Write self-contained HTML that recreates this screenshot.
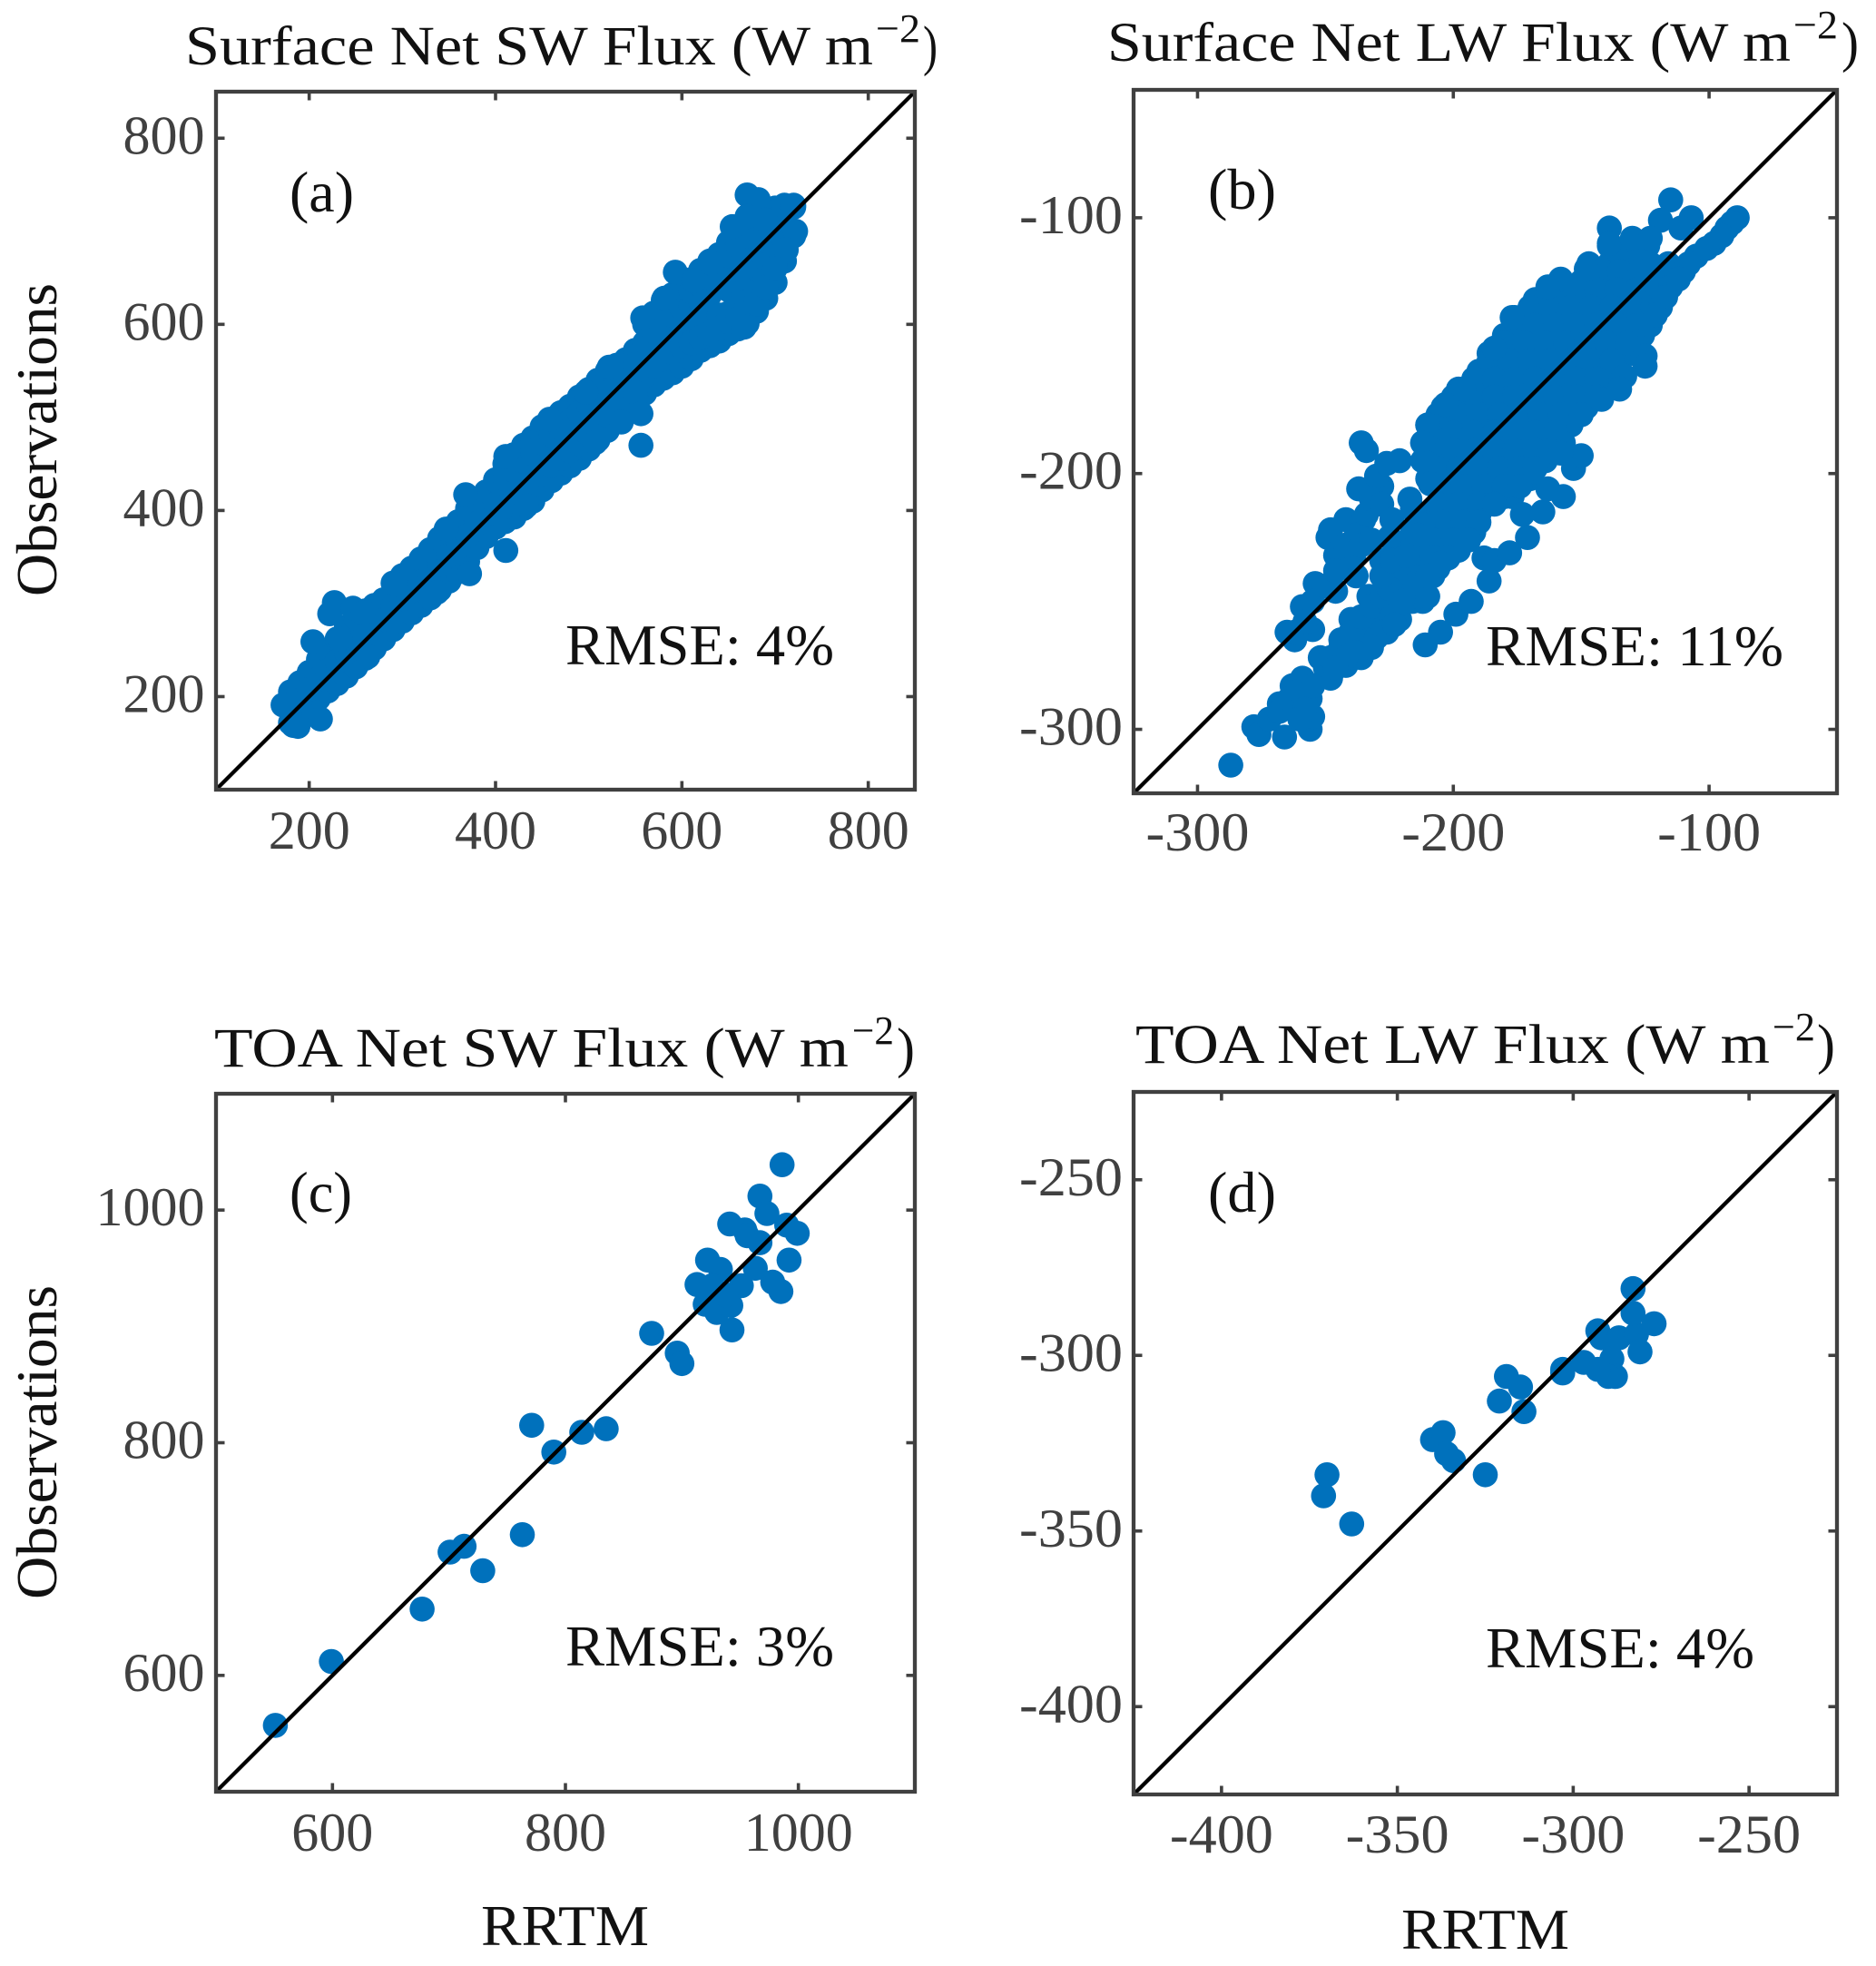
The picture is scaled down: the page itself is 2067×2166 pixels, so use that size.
<!DOCTYPE html>
<html lang="en">
<head>
<meta charset="utf-8">
<title>RRTM vs Observations flux comparison</title>
<style>
html,body{margin:0;padding:0;background:#fff;}
svg{display:block;}
text{font-family:"Liberation Serif",serif;}
.ttl{font-size:61px;fill:#111;}
.sup{font-size:44px;fill:#111;}
.lab{font-size:64px;fill:#111;}
.ann{font-size:63px;fill:#111;}
.tick{font-size:60px;fill:#404040;}
</style>
</head>
<body>
<svg id="figure" xmlns="http://www.w3.org/2000/svg" width="2067" height="2166" viewBox="0 0 2067 2166">
<rect x="0" y="0" width="2067" height="2166" fill="#fff"/>
<g id="panel-a"></g>
<g id="panel-b"></g>
<g id="panel-c"></g>
<g id="panel-d"></g>

<g>
<text class="ttl" x="204" y="71" textLength="758" lengthAdjust="spacingAndGlyphs">Surface Net SW Flux (W m</text>
<text class="sup" x="965" y="46" textLength="49" lengthAdjust="spacingAndGlyphs">−2</text>
<text class="ttl" x="1017" y="71" textLength="16" lengthAdjust="spacingAndGlyphs">)</text>
</g>
<g>
<text class="ttl" x="1220" y="67" textLength="753" lengthAdjust="spacingAndGlyphs">Surface Net LW Flux (W m</text>
<text class="sup" x="1976" y="42" textLength="49" lengthAdjust="spacingAndGlyphs">−2</text>
<text class="ttl" x="2029" y="67" textLength="19" lengthAdjust="spacingAndGlyphs">)</text>
</g>
<g>
<text class="ttl" x="236" y="1175" textLength="699" lengthAdjust="spacingAndGlyphs">TOA Net SW Flux (W m</text>
<text class="sup" x="939" y="1150" textLength="46" lengthAdjust="spacingAndGlyphs">−2</text>
<text class="ttl" x="988" y="1175" textLength="20" lengthAdjust="spacingAndGlyphs">)</text>
</g>
<g>
<text class="ttl" x="1251" y="1171" textLength="699" lengthAdjust="spacingAndGlyphs">TOA Net LW Flux (W m</text>
<text class="sup" x="1953" y="1146" textLength="47" lengthAdjust="spacingAndGlyphs">−2</text>
<text class="ttl" x="2002" y="1171" textLength="20" lengthAdjust="spacingAndGlyphs">)</text>
</g>

<text class="lab" transform="translate(62,657) rotate(-90)" textLength="345" lengthAdjust="spacingAndGlyphs">Observations</text>
<text class="lab" transform="translate(62,1762) rotate(-90)" textLength="346" lengthAdjust="spacingAndGlyphs">Observations</text>
<text class="lab" x="530" y="2143" textLength="185" lengthAdjust="spacingAndGlyphs">RRTM</text>
<text class="lab" x="1544" y="2147" textLength="185" lengthAdjust="spacingAndGlyphs">RRTM</text>

<text class="ann" x="319" y="233" textLength="71" lengthAdjust="spacingAndGlyphs">(a)</text>
<text class="ann" x="1331" y="230" textLength="75" lengthAdjust="spacingAndGlyphs">(b)</text>
<text class="ann" x="319" y="1335" textLength="69" lengthAdjust="spacingAndGlyphs">(c)</text>
<text class="ann" x="1331" y="1335" textLength="75" lengthAdjust="spacingAndGlyphs">(d)</text>

<text class="ann" x="623" y="732" textLength="296" lengthAdjust="spacingAndGlyphs">RMSE: 4%</text>
<text class="ann" x="1637" y="733" textLength="328" lengthAdjust="spacingAndGlyphs">RMSE: 11%</text>
<text class="ann" x="623" y="1835" textLength="296" lengthAdjust="spacingAndGlyphs">RMSE: 3%</text>
<text class="ann" x="1637" y="1837" textLength="296" lengthAdjust="spacingAndGlyphs">RMSE: 4%</text>
</svg>

<script>
// Panel (a) values
const aObservedX = [
180,190,200,210,220,230,240,250,260,270,280,290,300,310,320,330,340,350,360,370,380,390,400,410,420,430,440,450,460,470,480,490,500,510,520,530,540,550,560,570,580,590,600,610,620,630,640,650,660,670,680,690,700,710,720,
180,190,200,210,220,230,240,250,260,270,280,290,300,310,320,330,340,350,360,370,380,390,400,410,420,430,440,450,460,470,480,490,500,510,520,530,540,550,560,570,580,590,600,610,620,630,640,650,660,670,680,690,700,710,720,
180,190,200,210,220,230,240,250,260,270,280,290,300,310,320,330,340,350,360,370,380,390,400,410,420,430,440,450,460,470,480,490,500,510,520,530,540,550,560,570,580,590,600,
560,560,570,570,580,580,590,590,600,600,
610,610,620,620,630,630,640,640,650,650,650,660,660,660,670,670,670,680,680,680,690,690,690,700,700,700,710,710,
410,410,420,420,430,430,440,440,450,450,460,460,470,470,480,480,490,490,500,500,510,510,520,520,530,530,540,540,550,550,
610,620,630,640,610,620,630,640,650,660,670,650,660,670,680,680,690,700,690,
172,183,188,212,204,227,222,247,233,258,368,372,411,411,458,556,556,535,522,497,593,558,581,670,682,654,631,613,720,722,712,667,690,700,670,690,292,347,337,263,507,433
];
const aObservedY = [
205,215,226,240,250,262,275,285,292,298,304,322,330,338,348,358,370,380,388,402,412,420,433,450,460,470,478,490,498,505,512,522,530,540,550,556,562,572,600,612,626,632,640,648,658,668,675,688,700,715,720,722,725,728,726,
172,178,190,198,206,214,222,232,241,252,262,272,281,290,298,306,315,324,334,345,360,372,382,388,393,402,410,422,432,440,448,456,466,476,486,495,505,512,526,535,542,548,555,563,572,577,582,590,595,601,614,628,645,668,695,
188,196,208,219,228,238,248,258,266,275,283,297,305,314,323,332,342,352,361,373,386,396,407,419,426,436,444,456,465,472,480,489,498,508,518,525,533,542,563,573,584,590,597,
545,580,555,592,563,605,570,610,576,618,
600,620,600,625,605,632,610,640,612,637,660,618,645,668,625,650,675,635,660,680,650,672,690,665,685,700,690,705,
434,404,443,410,453,419,461,427,473,439,481,448,488,456,496,464,505,472,514,482,524,492,534,502,540,510,547,519,557,527,
635,642,650,658,580,586,590,596,603,606,612,674,684,695,700,622,638,712,706,
191,169,168,176,259,301,289,295,262,290,417,332,357,458,498,470,504,495,554,527,656,607,628,739,734,705,666,647,728,700,680,597,640,660,716,712,321,380,312,243,473,405
];
const aTickValues = [200,400,600,800];

// Panel (b) values
const bObservedX = [
-139,-131,-124,
-147,-139,-131,-123,-116,
-158,-150,-142,-134,-126,-118,
-168,-160,-152,-144,-136,-128,-120,
-176,-168,-160,-152,-144,-136,-128,-122,
-180,-172,-164,-156,-148,-140,-132,-126,
-186,-178,-170,-162,-154,-146,-138,-130,
-190,-182,-174,-166,-158,-150,-142,-136,
-198,-190,-182,-174,-166,-158,-150,-142,
-204,-196,-188,-180,-172,-164,-156,-148,
-210,-202,-194,-186,-178,-170,-162,-154,
-212,-204,-196,-188,-180,-172,-164,-157,
-212,-204,-196,-188,-180,-172,-164,
-210,-202,-194,-186,-178,-170,
-204,-196,-188,-180,-177,
-210,-202,-194,-190,
-216,-208,-200,-192,
-220,-212,-205,-198,
-220,-212,-206,
-218,-212,
-216,-212,
-135,-127,
-143,-135,-127,-119,
-160,-152,-144,-136,-128,-120,
-170,-162,-154,-146,-138,-130,-122,
-176,-168,-160,-152,-144,-136,-128,
-180,-172,-164,-156,-148,-140,-132,
-186,-178,-170,-162,-154,-146,-138,
-192,-184,-176,-168,-160,-152,-144,
-200,-192,-184,-176,-168,-160,-152,-144,
-206,-198,-190,-182,-174,-166,-158,-150,
-208,-200,-192,-184,-176,-168,-160,
-208,-200,-192,-184,-176,-168,-162,
-206,-198,-190,-182,-174,-168,
-204,-196,-188,-180,-174,
-206,-198,-190,-184,
-212,-204,-196,-190,
-216,-208,-200,-194,
-216,-208,-202,
-216,-208,
-214,
-287,-278,-276,-266,-256,-255,-268,-263,-259,-252,-248,-242,-236,-233,-226,-221,-240,-228,-233,-214,-210,
-211,-205,-199,-193,-186,-188,-184,-178,-171,-173,-165,-157,-163,-153,-150,-158,
-262,-265,-255,-259,-254,-246,-238,-246,-239,-249,-248,-242,-237,-228,-230,-226,-221,-236,-234,-217,-228,-221,
-89,-93,-98,-105,-110,-115,-119,-123,-125,-125,-133,-135,-142,-115,-119,-107,-111,-139,-139,-130,-123,-148,-158,-163,-177,-184,-196,-203,-210,-212,-210,-209,
-91,-95,-101,-108,-112,-117,-121,
-232,-236,-230,-244,-250,-235,-230,-225,-272,-268,-260,-256,
-248,-244,-240,-236,-232,-228,-224,-228,-232,-238,-242,-246,-225,-220,-215,-210,-205,-223,
-262,-258,-255,-250,-246,-242,-238,-234,-232,-228,-224,-216,-212,-236,-232,-228,-224,-214,-218,
-264,-260,-258,-260,-255
];
const bObservedY = [
-111,-111,-111,
-118,-118,-118,-118,-118,
-125,-125,-125,-125,-125,-125,
-132,-132,-132,-132,-132,-132,-132,
-139,-139,-139,-139,-139,-139,-139,-139,
-146,-146,-146,-146,-146,-146,-146,-146,
-153,-153,-153,-153,-153,-153,-153,-153,
-160,-160,-160,-160,-160,-160,-160,-160,
-167,-167,-167,-167,-167,-167,-167,-167,
-174,-174,-174,-174,-174,-174,-174,-174,
-181,-181,-181,-181,-181,-181,-181,-181,
-188,-188,-188,-188,-188,-188,-188,-188,
-195,-195,-195,-195,-195,-195,-195,
-202,-202,-202,-202,-202,-202,
-209,-209,-209,-209,-209,
-216,-216,-216,-216,
-223,-223,-223,-223,
-230,-230,-230,-230,
-237,-237,-237,
-244,-244,
-250,-250,
-114,-114,
-121,-121,-121,-121,
-128,-128,-128,-128,-128,-128,
-135,-135,-135,-135,-135,-135,-135,
-142,-142,-142,-142,-142,-142,-142,
-149,-149,-149,-149,-149,-149,-149,
-156,-156,-156,-156,-156,-156,-156,
-163,-163,-163,-163,-163,-163,-163,
-170,-170,-170,-170,-170,-170,-170,-170,
-177,-177,-177,-177,-177,-177,-177,-177,
-184,-184,-184,-184,-184,-184,-184,
-191,-191,-191,-191,-191,-191,-191,
-198,-198,-198,-198,-198,-198,
-205,-205,-205,-205,-205,
-212,-212,-212,-212,
-219,-219,-219,-219,
-226,-226,-226,-226,
-233,-233,-233,
-240,-240,
-247,
-314,-299,-302,-303,-300,-295,-290,-283,-280,-272,-280,-275,-272,-267,-262,-257,-257,-253,-248,-248,-248,
-267,-262,-255,-250,-242,-233,-234,-231,-225,-216,-215,-209,-206,-198,-193,-192,
-265,-262,-261,-252,-243,-246,-240,-232,-233,-225,-222,-218,-206,-205,-201,-196,-195,-188,-191,-210,-234,-228,
-100,-104,-110,-115,-121,-127,-135,-142,-154,-158,-162,-167,-171,-93,-101,-100,-104,-104,-110,-108,-108,-120,-124,-127,-139,-151,-167,-173,-181,-188,-196,-204,
-102,-107,-112,-118,-124,-131,-138,
-258,-262,-264,-268,-276,-218,-212,-225,-296,-293,-290,-288,
-272,-265,-262,-256,-252,-248,-256,-262,-268,-270,-272,-276,-245,-250,-243,-240,-235,-259,
-262,-258,-250,-244,-238,-228,-224,-216,-210,-212,-218,-214,-220,-228,-226,-240,-234,-224,-232,
-288,-285,-292,-296,-283
];
const bTickValues = [-300,-200,-100];

// Panel (c) values
const cObservedX = [551,599,677,701,713,729,763,771,790,814,835,874,896,900,943,941,954,956,967,973,967,963,951,986,990,999,992,978,985,922,933,913,926,920,930,942,938];
const cObservedY = [557,612,657,706,711,690,721,815,792,809,812,894,877,868,897,988,983,978,1012,997,972,950,935,1039,987,980,957,938,930,957,949,936,935,919,912,918,927];
const cTickValues = [600,800,1000];

// Panel (d) values
const dObservedX = [-371,-370,-363,-340,-337,-336,-334,-325,-321,-319,-315,-314,-303,-303,-297,-293,-292,-287,-282,-283,-283,-277,-281,-289,-288,-290,-293];
const dObservedY = [-340,-334,-348,-324,-322,-328,-330,-334,-313,-306,-309,-316,-304,-305,-302,-293,-295,-295,-294,-281,-288,-291,-299,-301,-306,-306,-304];
const dTickValues = [-400,-350,-300,-250];

const SVG_NS = 'http://www.w3.org/2000/svg';
const MARKER_RADIUS = 13.8;
const AXIS_COLOR = '#404040';

function labelWidth(s){
  let w = 0;
  for (const ch of s) { w += ch === '-' ? 24 : 30; }
  return w;
}

function makeScale(d0, d1, r0, r1){
  return function(v){ return r0 + (v - d0) / (d1 - d0) * (r1 - r0); };
}

function addLine(parent, x1, y1, x2, y2, color, width){
  const l = document.createElementNS(SVG_NS, 'line');
  l.setAttribute('x1', x1);
  l.setAttribute('y1', y1);
  l.setAttribute('x2', x2);
  l.setAttribute('y2', y2);
  l.setAttribute('stroke', color);
  l.setAttribute('stroke-width', width);
  parent.appendChild(l);
  return l;
}

function drawPanel(id, box, domain, xs, ys, ticks, xBaseline, yLabelRight){
  const g = document.getElementById(id);
  const sx = makeScale(domain[0], domain[1], box.l, box.r);
  const sy = makeScale(domain[0], domain[1], box.b, box.t);

  const pointsGroup = document.createElementNS(SVG_NS, 'g');
  
  
  pointsGroup.setAttribute('fill', '#0071BC');
  g.appendChild(pointsGroup);
  for (let i = 0; i < xs.length; i++) {
    const c = document.createElementNS(SVG_NS, 'circle');
    
    
    c.setAttribute('cx', sx(xs[i]).toFixed(1));
    c.setAttribute('cy', sy(ys[i]).toFixed(1));
    c.setAttribute('r', MARKER_RADIUS);
    pointsGroup.appendChild(c);
  }

  const diag = addLine(g, sx(domain[0]), sy(domain[0]), sx(domain[1]), sy(domain[1]), '#000', 4.3);
  
  

  const frame = document.createElementNS(SVG_NS, 'rect');
  
  
  frame.setAttribute('x', box.l);
  frame.setAttribute('y', box.t);
  frame.setAttribute('width', box.r - box.l);
  frame.setAttribute('height', box.b - box.t);
  frame.setAttribute('fill', 'none');
  frame.setAttribute('stroke', AXIS_COLOR);
  frame.setAttribute('stroke-width', 4.3);
  g.appendChild(frame);

  const tickLen = 9.5;
  for (const t of ticks) {
    const px = sx(t), py = sy(t), s = String(t), w = labelWidth(s);
    const tb = addLine(g, px, box.b, px, box.b - tickLen, AXIS_COLOR, 3.6);
    
    
    const tt = addLine(g, px, box.t, px, box.t + tickLen, AXIS_COLOR, 3.6);
    
    
    const tl = addLine(g, box.l, py, box.l + tickLen, py, AXIS_COLOR, 3.6);
    
    
    const tr = addLine(g, box.r, py, box.r - tickLen, py, AXIS_COLOR, 3.6);
    
    

    const xl = document.createElementNS(SVG_NS, 'text');
    
    
    xl.setAttribute('class', 'tick');
    xl.setAttribute('x', (px - w / 2).toFixed(1));
    xl.setAttribute('y', xBaseline);
    xl.setAttribute('textLength', w.toFixed(1));
    xl.setAttribute('lengthAdjust', 'spacingAndGlyphs');
    xl.textContent = s;
    g.appendChild(xl);

    const yl = document.createElementNS(SVG_NS, 'text');
    
    
    yl.setAttribute('class', 'tick');
    yl.setAttribute('x', (yLabelRight - w).toFixed(1));
    yl.setAttribute('y', (py + 17).toFixed(1));
    yl.setAttribute('textLength', w.toFixed(1));
    yl.setAttribute('lengthAdjust', 'spacingAndGlyphs');
    yl.textContent = s;
    g.appendChild(yl);
  }
}

drawPanel('panel-a', {l:238, r:1008, t:101, b:870}, [100,850], aObservedX, aObservedY, aTickValues, 935, 225.5);
drawPanel('panel-b', {l:1249, r:2024, t:99, b:874}, [-325,-50], bObservedX, bObservedY, bTickValues, 937, 1237);
drawPanel('panel-c', {l:238, r:1008, t:1205, b:1974}, [500,1100], cObservedX, cObservedY, cTickValues, 2039, 225.5);
drawPanel('panel-d', {l:1249, r:2024, t:1203, b:1977}, [-425,-225], dObservedX, dObservedY, dTickValues, 2041, 1237);
</script>
</body>
</html>
